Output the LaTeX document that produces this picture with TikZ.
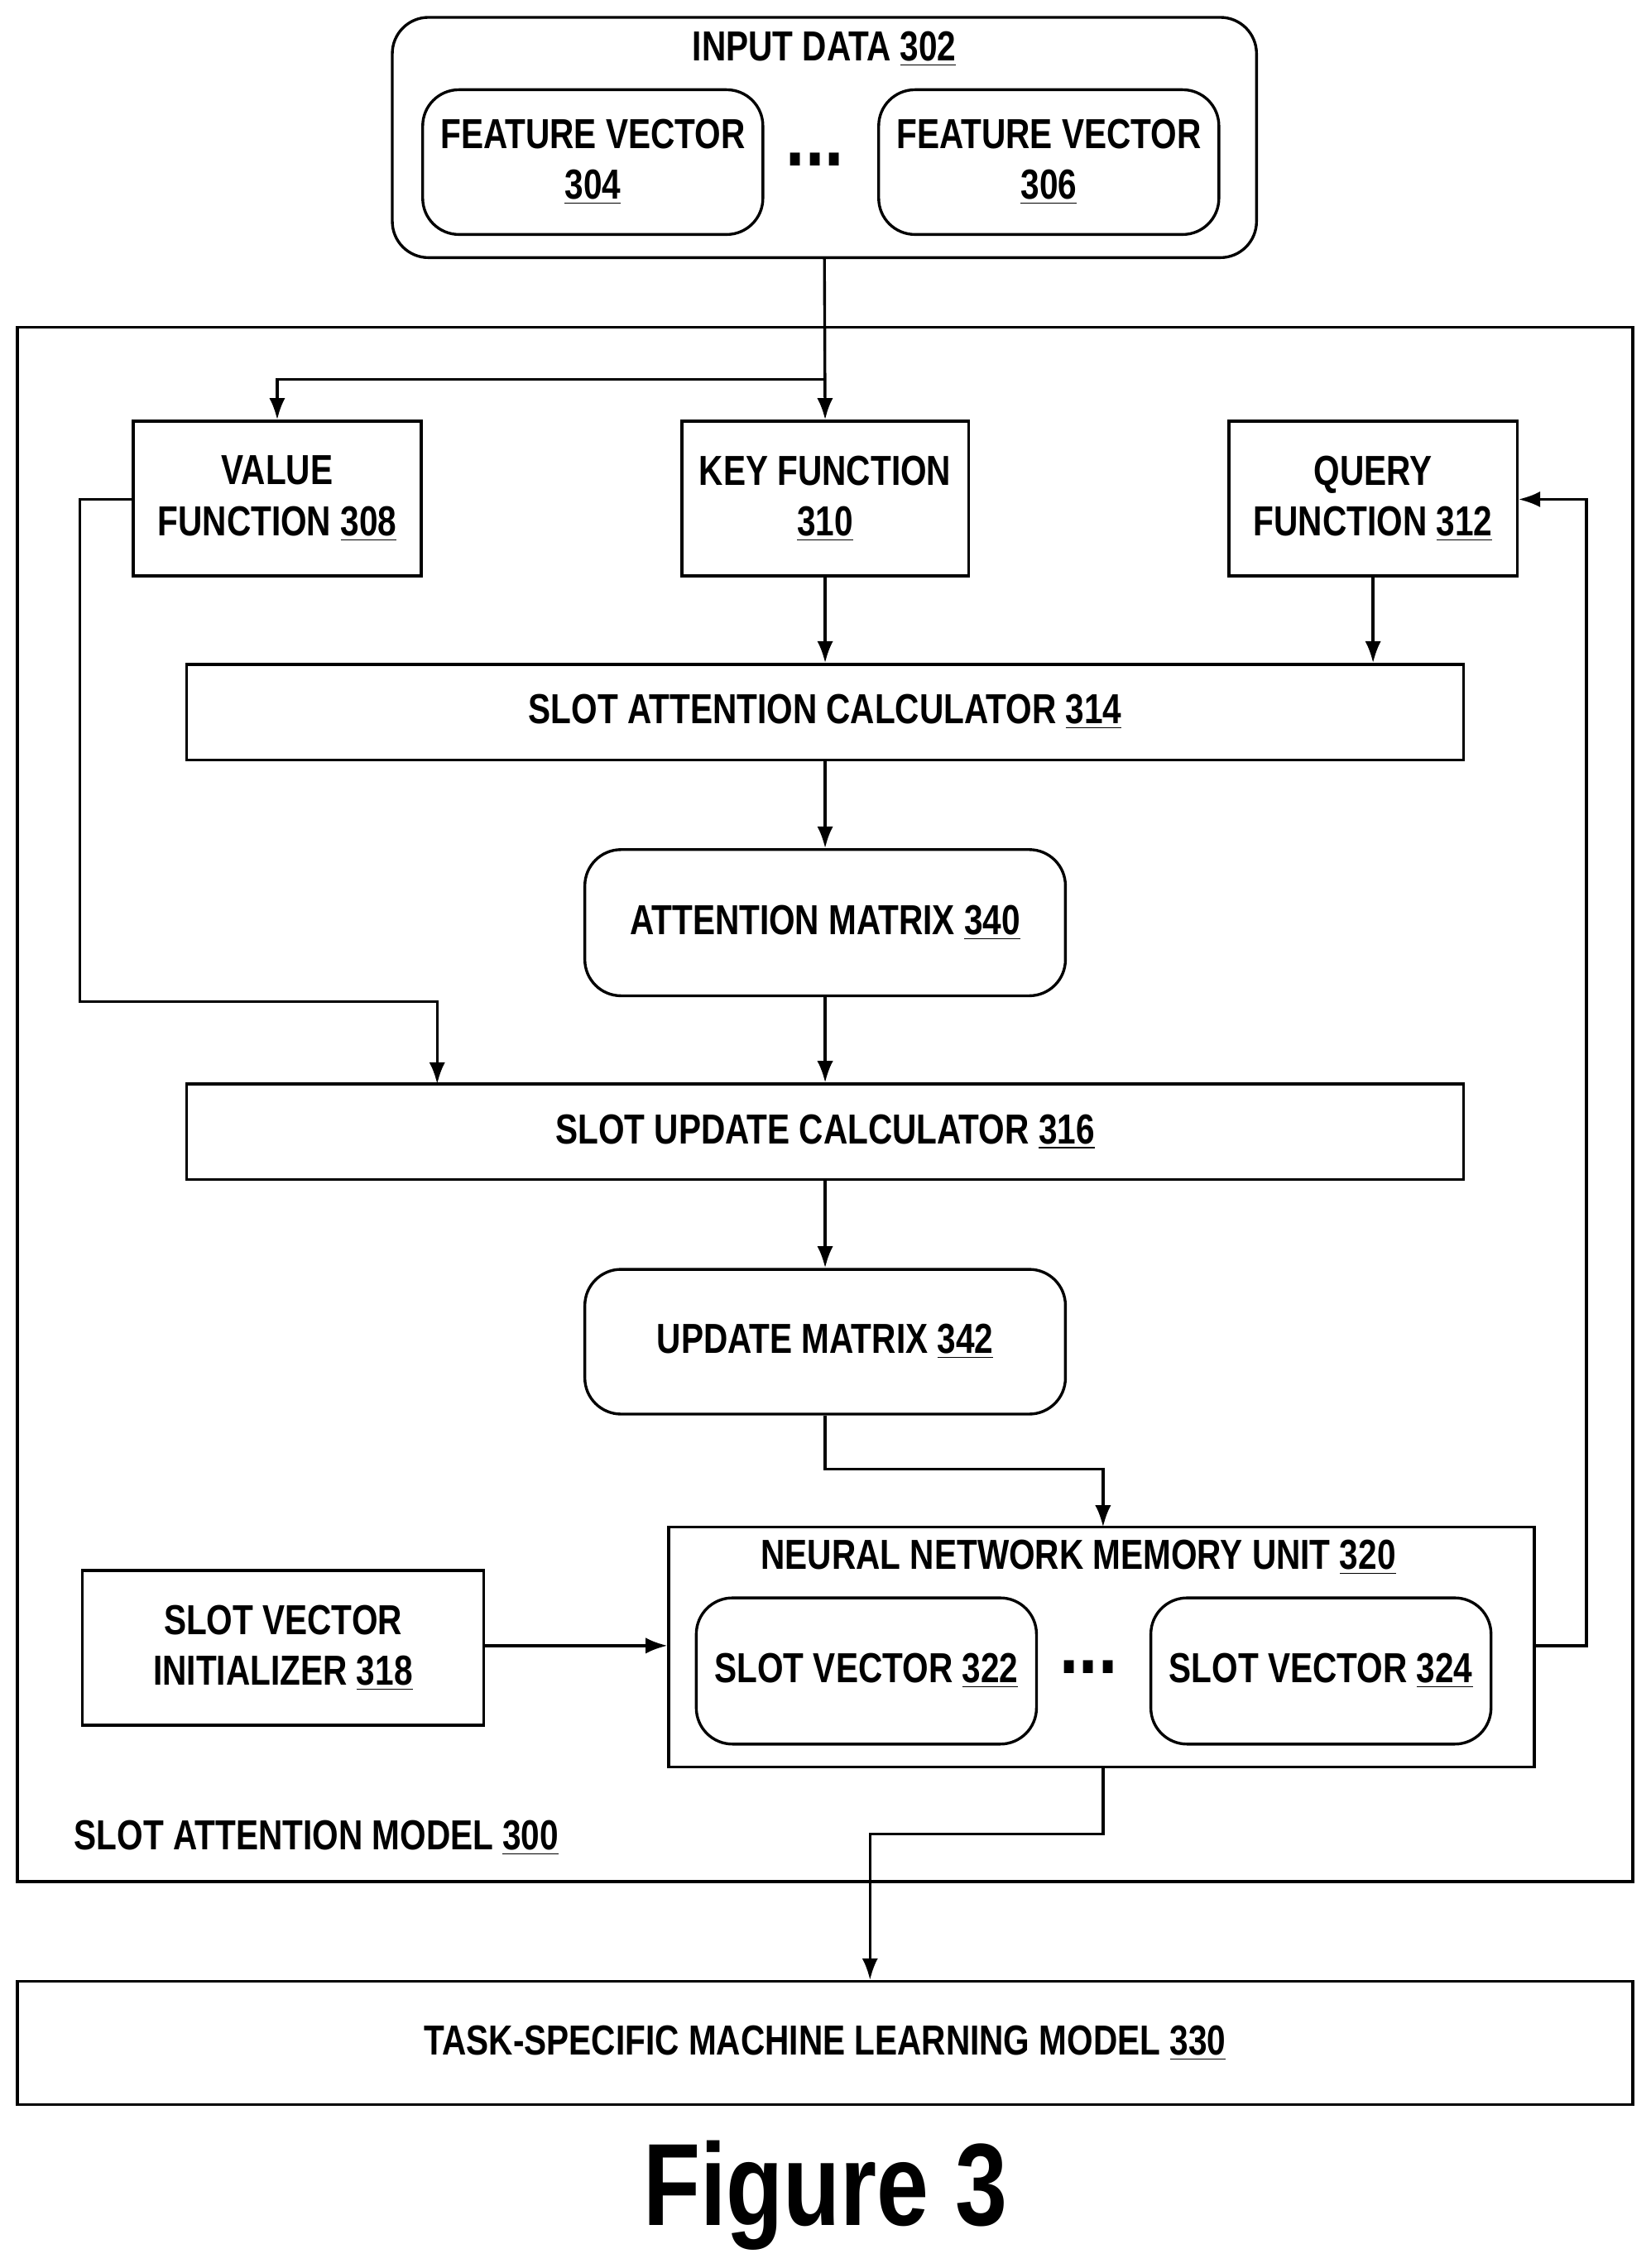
\documentclass[tikz,border=0pt]{standalone}
\usepackage{fontspec}
\setmainfont[FakeStretch=0.8]{Liberation Sans}
\usetikzlibrary{arrows.meta}
\newcommand\refnum[1]{\underline{#1}}
\tikzset{
  box/.style={draw, line width=1.1pt, align=center, inner sep=0pt,
    font=\fontsize{16.5}{20}\selectfont\bfseries},
  rbox/.style={box, rounded corners=0.5cm},
  lbl/.style={font=\fontsize{16.5}{20}\selectfont\bfseries, inner sep=0pt},
  link/.style={line width=1.1pt, -{Latex[length=0.3cm, width=0.22cm]}},
  wire/.style={line width=1.1pt}
}
\begin{document}
\begin{tikzpicture}[x=0.02cm, y=-0.02cm]
  \useasboundingbox (0,0) rectangle (1140,1567);
  % input data
  \node[rbox, minimum width=597*0.02cm, minimum height=166*0.02cm] (input) at (569.5,95) {};
  \node[lbl] (inputtext) at (569.5,34) {INPUT DATA \refnum{302}};
  \node[rbox, minimum width=235*0.02cm, minimum height=100*0.02cm] (fv1) at (409.5,112) {FEATURE VECTOR\\\refnum{304}};
  \node[rbox, minimum width=235*0.02cm, minimum height=100*0.02cm] (fv2) at (724.5,112) {FEATURE VECTOR\\\refnum{306}};
  \node[lbl, font=\fontsize{34}{34}\selectfont\bfseries] (dots1) at (563,110) {...};
  % slot attention model
  \node[box, minimum width=1116*0.02cm, minimum height=1074*0.02cm] (model) at (570,763) {};
  \node[lbl, anchor=west] (modeltext) at (51,1270) {SLOT ATTENTION MODEL \refnum{300}};
  \node[box, minimum width=199*0.02cm, minimum height=107*0.02cm] (value) at (191.5,344.5) {VALUE\\FUNCTION \refnum{308}};
  \node[box, minimum width=198*0.02cm, minimum height=107*0.02cm] (key) at (570,344.5) {KEY FUNCTION\\\refnum{310}};
  \node[box, minimum width=199*0.02cm, minimum height=107*0.02cm] (query) at (948.5,344.5) {QUERY\\FUNCTION \refnum{312}};
  \node[box, minimum width=882*0.02cm, minimum height=66*0.02cm] (attcalc) at (570,492) {SLOT ATTENTION CALCULATOR \refnum{314}};
  \node[rbox, minimum width=332*0.02cm, minimum height=101*0.02cm] (attmat) at (570,637.5) {ATTENTION MATRIX \refnum{340}};
  \node[box, minimum width=882*0.02cm, minimum height=66*0.02cm] (updcalc) at (570,782) {SLOT UPDATE CALCULATOR \refnum{316}};
  \node[rbox, minimum width=332*0.02cm, minimum height=100*0.02cm] (updmat) at (570,927) {UPDATE MATRIX \refnum{342}};
  \node[box, minimum width=598*0.02cm, minimum height=166*0.02cm] (memory) at (761,1138) {};
  \node[lbl] (memorytext) at (745,1076) {NEURAL NETWORK MEMORY UNIT \refnum{320}};
  \node[rbox, minimum width=235*0.02cm, minimum height=101*0.02cm] (sv1) at (598.5,1154.5) {SLOT VECTOR \refnum{322}};
  \node[rbox, minimum width=235*0.02cm, minimum height=101*0.02cm] (sv2) at (912.5,1154.5) {SLOT VECTOR \refnum{324}};
  \node[lbl, font=\fontsize{34}{34}\selectfont\bfseries] (dots2) at (752,1152) {...};
  \node[box, minimum width=277*0.02cm, minimum height=107*0.02cm] (init) at (195.5,1138.5) {SLOT VECTOR\\INITIALIZER \refnum{318}};
  % task model
  \node[box, minimum width=1116*0.02cm, minimum height=85*0.02cm] (task) at (570,1411.5) {TASK-SPECIFIC MACHINE LEARNING MODEL \refnum{330}};
  \node[lbl, font=\fontsize{46}{50}\selectfont\bfseries] (figlabel) at (570,1517) {Figure 3};
  % connectors
  \draw[link] (input.south) -- (key.north);
  \draw[link] (570,262) -| (value.north);
  \draw[link] (key.south) -- (key.south |- attcalc.north);
  \draw[link] (query.south) -- (query.south |- attcalc.north);
  \draw[link] (attcalc.south) -- (attmat.north);
  \draw[link] (attmat.south) -- (attmat.south |- updcalc.north);
  \draw[link] (value.west |- 0,345) -- (55,345) -- (55,692) -| (302,749);
  \draw[link] (updcalc.south) -- (updmat.north);
  \draw[link] (updmat.south) -- (570,1015) -| (762,1055);
  \draw[link] (init.east |- 0,1137) -- (memory.west |- 0,1137);
  \draw[link] (memory.east |- 0,1137) -- (1096,1137) -- (1096,345) -- (query.east |- 0,345);
  \draw[link] (762,1221) -- (762,1267) -| (task.north -| 601,0);
\end{tikzpicture}
\end{document}
